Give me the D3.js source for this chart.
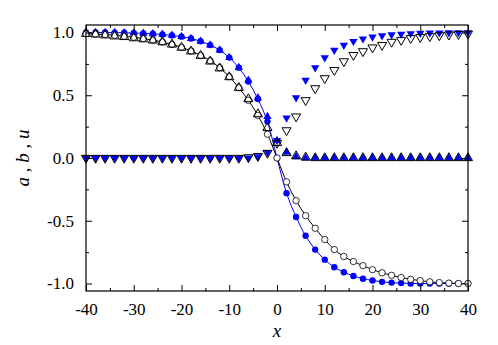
<!DOCTYPE html>
<html>
<head>
<meta charset="utf-8">
<script src="https://cdn.jsdelivr.net/npm/d3@7"></script>
<style>
  body { margin: 0; background: #fff; }
  svg text { font-family: "Times New Roman", Times, "Liberation Serif", Tinos, "Nimbus Roman", "Noto Serif", "DejaVu Serif", FreeSerif, serif; }
</style>
</head>
<body>
<svg id="chart" width="498" height="345"></svg>
<script>
// x positions of the samples
var xs = [-40, -38, -36, -34, -32, -30, -28, -26, -24, -22, -20, -18, -16, -14, -12, -10, -8, -6, -4, -2,
  0, 2, 4, 6, 8, 10, 12, 14, 16, 18, 20, 22, 24, 26, 28, 30, 32, 34, 36, 38, 40];

// open (black) model
var uOpen = [0.99, 0.988, 0.984, 0.978, 0.97, 0.962, 0.952, 0.94, 0.925, 0.905, 0.882, 0.853, 0.817, 0.775, 0.72, 0.648, 0.56, 0.46, 0.34, 0.19,
  0.0, -0.19, -0.34, -0.46, -0.56, -0.65, -0.73, -0.785, -0.825, -0.858, -0.89, -0.915, -0.935, -0.953, -0.967, -0.977, -0.987, -0.993, -0.997, -1.0, -1.0];
var aOpen = [0.99, 0.985, 0.978, 0.97, 0.965, 0.955, 0.947, 0.937, 0.923, 0.905, 0.88, 0.85, 0.815, 0.77, 0.715, 0.645, 0.56, 0.47, 0.35, 0.24,
  0.12, 0.04, 0.015, 0.005, 0, 0, 0, 0, 0, 0, 0, 0, 0, 0, 0, 0, 0, 0, 0, 0, 0];
var bOpen = [0, 0, 0, 0, 0, 0, 0, 0, 0, 0, 0, 0, 0, 0, 0, 0, 0, 0.005, 0.015, 0.04,
  0.12, 0.22, 0.33, 0.46, 0.555, 0.635, 0.70, 0.77, 0.82, 0.85, 0.88, 0.90, 0.925, 0.94, 0.955, 0.963, 0.97, 0.977, 0.983, 0.987, 0.99];

// filled (blue) model
var uBlue = [1.0, 1.0, 1.0, 0.999, 0.998, 0.996, 0.993, 0.99, 0.985, 0.977, 0.967, 0.952, 0.93, 0.90, 0.86, 0.80, 0.72, 0.61, 0.47, 0.29,
  0.0, -0.28, -0.47, -0.62, -0.73, -0.81, -0.87, -0.91, -0.94, -0.962, -0.976, -0.987, -0.993, -0.997, -1.0, -1.0, -1.0, -1.0, -1.0, -1.0, -1.0];
var aBlue = [1.0, 1.0, 1.0, 0.999, 0.998, 0.996, 0.993, 0.99, 0.985, 0.977, 0.967, 0.952, 0.93, 0.90, 0.86, 0.80, 0.72, 0.62, 0.48, 0.33,
  0.14, 0.045, 0.01, 0, 0, 0, 0, 0, 0, 0, 0, 0, 0, 0, 0, 0, 0, 0, 0, 0, 0];
var bBlue = [0, 0, 0, 0, 0, 0, 0, 0, 0, 0, 0, 0, 0, 0, 0, 0, 0, 0, 0.01, 0.045,
  0.14, 0.32, 0.48, 0.62, 0.72, 0.80, 0.86, 0.90, 0.93, 0.95, 0.965, 0.975, 0.983, 0.988, 0.992, 0.995, 0.997, 0.998, 0.999, 1.0, 1.0];

var xTicks = [-40, -30, -20, -10, 0, 10, 20, 30, 40];
var xMinor = [-35, -25, -15, -5, 5, 15, 25, 35];
var yTicks = [-1.0, -0.5, 0.0, 0.5, 1.0];
var yMinor = [-0.75, -0.25, 0.25, 0.75];

var svg = d3.select("#chart");
var mLeft = 86, mRight = 468, mTop = 25, mBottom = 291;

var x = d3.scaleLinear().domain([-40, 40]).range([mLeft, mRight]);
var y = d3.scaleLinear().domain([-1.06, 1.06]).range([mBottom, mTop]);

var blue = "#0000ff";

function pts(vals) {
  return xs.map(function(d, i) { return [d, vals[i]]; });
}

// plain hyphen for negatives, like the original
var fmtX = function(d) { return String(d); };
var fmtY = function(d) { return (d < 0 ? "-" : "") + Math.abs(d).toFixed(1); };

var line = d3.line()
  .x(function(d) { return x(d[0]); })
  .y(function(d) { return y(d[1]); })
  .curve(d3.curveCatmullRom);

var plot = svg.append("g");

// curves
plot.append("path").attr("d", line(pts(uBlue)))
  .attr("fill", "none").attr("stroke", blue).attr("stroke-width", 1);
plot.append("path").attr("d", line(pts(uOpen)))
  .attr("fill", "none").attr("stroke", "#000").attr("stroke-width", 1);

var triFill = d3.symbol().type(d3.symbolTriangle).size(30)();
var triOpen = d3.symbol().type(d3.symbolTriangle).size(36)();

// blue filled markers
plot.append("g").selectAll("circle").data(pts(uBlue)).join("circle")
  .attr("cx", function(d) { return x(d[0]); })
  .attr("cy", function(d) { return y(d[1]); })
  .attr("r", 3.2).attr("fill", blue);
plot.append("g").selectAll("path").data(pts(aBlue)).join("path")
  .attr("d", triFill)
  .attr("transform", function(d) { return "translate(" + x(d[0]) + "," + y(d[1]) + ")"; })
  .attr("fill", blue);
plot.append("g").selectAll("path").data(pts(bBlue)).join("path")
  .attr("d", triFill)
  .attr("transform", function(d) { return "translate(" + x(d[0]) + "," + y(d[1]) + ") rotate(180)"; })
  .attr("fill", blue);

// open markers
plot.append("g").selectAll("circle").data(pts(uOpen)).join("circle")
  .attr("cx", function(d) { return x(d[0]); })
  .attr("cy", function(d) { return y(d[1]); })
  .attr("r", 3.2).attr("fill", "#fff").attr("stroke", "#000").attr("stroke-width", 0.8);
plot.append("g").selectAll("path").data(pts(aOpen)).join("path")
  .attr("d", triOpen)
  .attr("transform", function(d) { return "translate(" + x(d[0]) + "," + y(d[1]) + ")"; })
  .attr("fill", "none").attr("stroke", "#000").attr("stroke-width", 1);
plot.append("g").selectAll("path").data(pts(bOpen)).join("path")
  .attr("d", triOpen)
  .attr("transform", function(d) { return "translate(" + x(d[0]) + "," + y(d[1]) + ") rotate(180)"; })
  .attr("fill", "none").attr("stroke", "#000").attr("stroke-width", 1);

// axes, ticks inward on all four sides
function styleAxis(g) {
  g.attr("font-family", null).attr("font-size", 17);
  g.select(".domain").remove();
  g.selectAll("line").attr("stroke", "#000").attr("stroke-width", 1);
  g.selectAll("text").attr("fill", "#000");
}

svg.append("g").attr("transform", "translate(0," + mBottom + ")")
  .call(d3.axisBottom(x).tickValues(xTicks).tickSize(-6).tickPadding(12).tickFormat(fmtX))
  .call(styleAxis);
svg.append("g").attr("transform", "translate(0," + mBottom + ")")
  .call(d3.axisBottom(x).tickValues(xMinor).tickSize(-3).tickFormat(""))
  .call(styleAxis);
svg.append("g").attr("transform", "translate(0," + mTop + ")")
  .call(d3.axisTop(x).tickValues(xTicks).tickSize(-6).tickFormat(""))
  .call(styleAxis);
svg.append("g").attr("transform", "translate(0," + mTop + ")")
  .call(d3.axisTop(x).tickValues(xMinor).tickSize(-3).tickFormat(""))
  .call(styleAxis);

svg.append("g").attr("transform", "translate(" + mLeft + ",0)")
  .call(d3.axisLeft(y).tickValues(yTicks).tickSize(-6).tickPadding(12).tickFormat(fmtY))
  .call(styleAxis);
svg.append("g").attr("transform", "translate(" + mLeft + ",0)")
  .call(d3.axisLeft(y).tickValues(yMinor).tickSize(-3).tickFormat(""))
  .call(styleAxis);
svg.append("g").attr("transform", "translate(" + mRight + ",0)")
  .call(d3.axisRight(y).tickValues(yTicks).tickSize(-6).tickFormat(""))
  .call(styleAxis);
svg.append("g").attr("transform", "translate(" + mRight + ",0)")
  .call(d3.axisRight(y).tickValues(yMinor).tickSize(-3).tickFormat(""))
  .call(styleAxis);

// frame
svg.append("rect")
  .attr("x", mLeft).attr("y", mTop)
  .attr("width", mRight - mLeft).attr("height", mBottom - mTop)
  .attr("fill", "none").attr("stroke", "#000").attr("stroke-width", 1.2);

// axis titles
svg.append("text")
  .attr("x", (mLeft + mRight) / 2).attr("y", 337)
  .attr("text-anchor", "middle").attr("font-size", 19).attr("font-style", "italic")
  .text("x");

var yt = svg.append("text")
  .attr("transform", "translate(29," + ((mTop + mBottom) / 2) + ") rotate(-90)")
  .attr("text-anchor", "middle").attr("font-size", 19);
yt.append("tspan").attr("font-style", "italic").text("a");
yt.append("tspan").text(" , ");
yt.append("tspan").attr("font-style", "italic").text("b");
yt.append("tspan").text(" , ");
yt.append("tspan").attr("font-style", "italic").text("u");
</script>
</body>
</html>
